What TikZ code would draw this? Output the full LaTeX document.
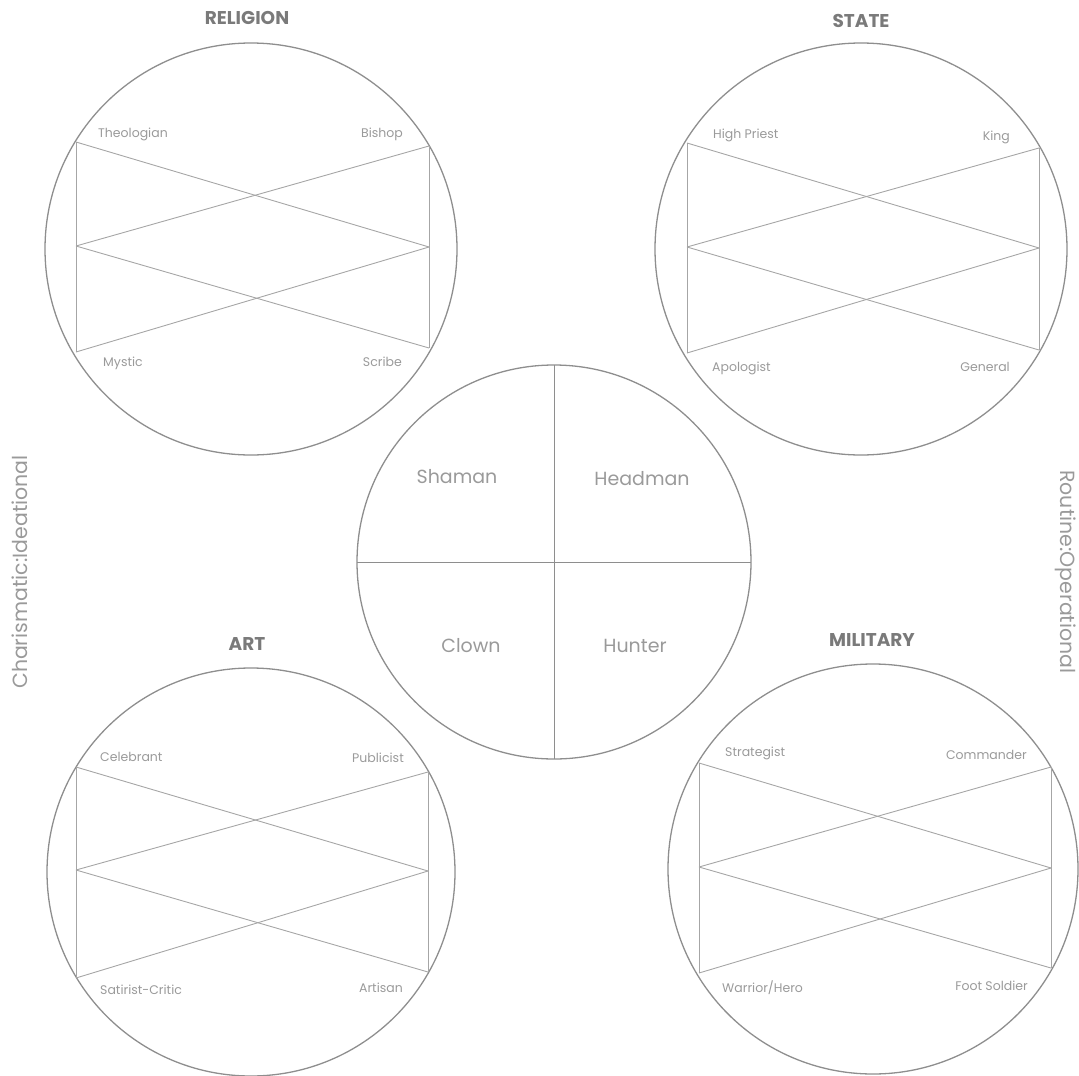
\documentclass[tikz,border=0pt]{standalone}
\usepackage{fontspec}
\setmainfont{Poppins}
\definecolor{ringgrey}{HTML}{8E8E8E}
\definecolor{linegrey}{HTML}{A6A6A6}
\definecolor{textgrey}{HTML}{9A9A9A}
\definecolor{titlegrey}{HTML}{7A7A7A}
\begin{document}
\begin{tikzpicture}[x=1pt,y=-1pt,
  ring/.style={circle,draw=ringgrey,line width=1.3pt,inner sep=0pt,outer sep=0pt},
  cross/.style={draw=linegrey,line width=0.9pt},
  rolelabel/.style={text=textgrey,font=\fontsize{12.5}{14}\selectfont,inner sep=0pt},
  corelabel/.style={text=textgrey,font=\fontsize{19}{22}\selectfont,inner sep=0pt},
  domaintitle/.style={text=titlegrey,font=\fontsize{18.5}{21}\selectfont\bfseries,inner sep=0pt},
  axislabel/.style={text=textgrey,font=\fontsize{20.5}{23}\selectfont,inner sep=0pt}]
\useasboundingbox (0,0) rectangle (1079,1076);

% ---------------- RELIGION ----------------
\node[ring,minimum size=412pt] (rel) at (251,249) {};
\node[domaintitle] (reltitle) at (247,18) {RELIGION};
\coordinate (relTL) at (76,142); \coordinate (relTR) at (429,146);
\coordinate (relML) at (76,246); \coordinate (relMR) at (429,247);
\coordinate (relBL) at (76,352); \coordinate (relBR) at (429,348);
\draw[cross] (relTL) -- (relBL); \draw[cross] (relTR) -- (relBR);
\draw[cross] (relTL) -- (relMR); \draw[cross] (relML) -- (relTR);
\draw[cross] (relML) -- (relBR); \draw[cross] (relBL) -- (relMR);
\node[rolelabel,anchor=west] (theologian) at (98,134) {Theologian};
\node[rolelabel,anchor=east] (bishop) at (403,134) {Bishop};
\node[rolelabel,anchor=west] (mystic) at (103,363) {Mystic};
\node[rolelabel,anchor=east] (scribe) at (402,362) {Scribe};

% ---------------- STATE ----------------
\node[ring,minimum size=412pt] (sta) at (861,249) {};
\node[domaintitle] (statitle) at (861,21) {STATE};
\coordinate (staTL) at (687,143); \coordinate (staTR) at (1039,148);
\coordinate (staML) at (687,247); \coordinate (staMR) at (1039,248);
\coordinate (staBL) at (687,353); \coordinate (staBR) at (1039,350);
\draw[cross] (staTL) -- (staBL); \draw[cross] (staTR) -- (staBR);
\draw[cross] (staTL) -- (staMR); \draw[cross] (staML) -- (staTR);
\draw[cross] (staML) -- (staBR); \draw[cross] (staBL) -- (staMR);
\node[rolelabel,anchor=west] (highpriest) at (713,135) {High Priest};
\node[rolelabel,anchor=east] (king) at (1010,137) {King};
\node[rolelabel,anchor=west] (apologist) at (712,368) {Apologist};
\node[rolelabel,anchor=east] (general) at (1010,367) {General};

% ---------------- ART ----------------
\node[ring,minimum size=408pt] (art) at (251,872) {};
\node[domaintitle] (arttitle) at (247,644) {ART};
\coordinate (artTL) at (76,767); \coordinate (artTR) at (428,772);
\coordinate (artML) at (76,870); \coordinate (artMR) at (428,871);
\coordinate (artBL) at (76,978); \coordinate (artBR) at (428,972);
\draw[cross] (artTL) -- (artBL); \draw[cross] (artTR) -- (artBR);
\draw[cross] (artTL) -- (artMR); \draw[cross] (artML) -- (artTR);
\draw[cross] (artML) -- (artBR); \draw[cross] (artBL) -- (artMR);
\node[rolelabel,anchor=west] (celebrant) at (100,757) {Celebrant};
\node[rolelabel,anchor=east] (publicist) at (404,758) {Publicist};
\node[rolelabel,anchor=west] (satirist) at (100,990) {Satirist-Critic};
\node[rolelabel,anchor=east] (artisan) at (403,988) {Artisan};

% ---------------- MILITARY ----------------
\node[ring,minimum size=410pt] (mil) at (873,869) {};
\node[domaintitle] (miltitle) at (872,640) {MILITARY};
\coordinate (milTL) at (699,763); \coordinate (milTR) at (1051,767);
\coordinate (milML) at (699,867); \coordinate (milMR) at (1051,868);
\coordinate (milBL) at (699,973); \coordinate (milBR) at (1051,968);
\draw[cross] (milTL) -- (milBL); \draw[cross] (milTR) -- (milBR);
\draw[cross] (milTL) -- (milMR); \draw[cross] (milML) -- (milTR);
\draw[cross] (milML) -- (milBR); \draw[cross] (milBL) -- (milMR);
\node[rolelabel,anchor=west] (strategist) at (725,753) {Strategist};
\node[rolelabel,anchor=east] (commander) at (1027,755) {Commander};
\node[rolelabel,anchor=west] (warrior) at (722,988) {Warrior/Hero};
\node[rolelabel,anchor=east] (footsoldier) at (1028,986) {Foot Soldier};

% ---------------- CORE ----------------
\node[ring,minimum size=394pt] (core) at (554,562) {};
\draw[cross,draw=ringgrey,line width=1pt] (core.north) -- (core.south);
\draw[cross,draw=ringgrey,line width=1pt] (core.west) -- (core.east);
\node[corelabel] (shaman) at (457,477) {Shaman};
\node[corelabel] (headman) at (642,479) {Headman};
\node[corelabel] (clown) at (471,646) {Clown};
\node[corelabel] (hunter) at (635,646) {Hunter};

% ---------------- AXES ----------------
\node[axislabel,rotate=90] (charismatic) at (20,572) {Charismatic:Ideational};
\node[axislabel,rotate=-90] (routine) at (1066,572) {Routine:Operational};
\end{tikzpicture}
\end{document}
